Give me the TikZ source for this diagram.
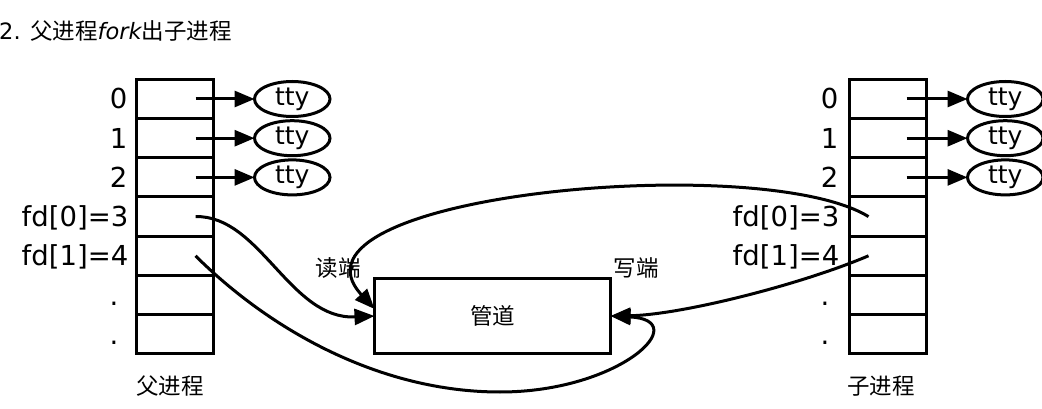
\documentclass[tikz,border=0pt]{standalone}
\usepackage{fontspec}
\setmainfont{DejaVu Sans}
\newfontfamily\cjk{Noto Sans CJK SC}
\usetikzlibrary{arrows.meta,positioning,shapes.geometric}

\begin{document}
\begin{tikzpicture}[
  x=1pt,y=-1pt,
  node distance=0pt and 0pt,
  cell/.style={draw,line width=3pt,outer sep=0pt,inner sep=0pt,
               minimum width=77pt,minimum height=39.2pt},
  ttybox/.style={ellipse,draw,line width=3pt,outer sep=0pt,inner sep=0pt,
               minimum width=75.5pt,minimum height=35pt,font=\fontsize{25}{25}\selectfont},
  lbl/.style={font=\fontsize{27.5}{27.5}\selectfont,inner sep=0pt,text height=20pt,text depth=0pt},
  zh/.style={font=\fontsize{22.5}{22.5}\selectfont\cjk,inner sep=0pt},
  arr/.style={-{Triangle[length=20pt,width=16pt]},line width=3pt}
]
  \useasboundingbox (0,0) rectangle (1042,409);
  \node[anchor=west,inner sep=0pt,font=\fontsize{22.5}{22.5}\selectfont](ttl) at (-1,31)
       {2. {\cjk 父进程}{\itshape fork}{\cjk 出子进程}};

  \node[cell](p0) at (175,99){};
  \node[cell,below=of p0](p1){};
  \node[cell,below=of p1](p2){};
  \node[cell,below=of p2](p3){};
  \node[cell,below=of p3](p4){};
  \node[cell,below=of p4](p5){};
  \node[cell,below=of p5](p6){};
  \node[lbl,left=9pt of p0](l0){0};
  \node[lbl,left=9pt of p1](l1){1};
  \node[lbl,left=9pt of p2](l2){2};
  \node[lbl,left=8pt of p3](l3){fd[0]=3};
  \node[lbl,left=8pt of p4](l4){fd[1]=4};
  \node[lbl,left=18pt of p5](l5){.};
  \node[lbl,left=18pt of p6](l6){.};
  \node[zh](fa) at (170,386){父进程};
  \node[ttybox,right=41pt of p0](t0){tty};
  \node[ttybox,right=41pt of p1](t1){tty};
  \node[ttybox,right=41pt of p2](t2){tty};
  \draw[arr]([xshift=-18pt]p0.east)--(t0);
  \draw[arr]([xshift=-18pt]p1.east)--(t1);
  \draw[arr]([xshift=-18pt]p2.east)--(t2);

  \node[cell](c0) at (888,99){};
  \node[cell,below=of c0](c1){};
  \node[cell,below=of c1](c2){};
  \node[cell,below=of c2](c3){};
  \node[cell,below=of c3](c4){};
  \node[cell,below=of c4](c5){};
  \node[cell,below=of c5](c6){};
  \node[lbl,left=11pt of c0](r0){0};
  \node[lbl,left=11pt of c1](r1){1};
  \node[lbl,left=11pt of c2](r2){2};
  \node[lbl,left=10pt of c3](r3){fd[0]=3};
  \node[lbl,left=10pt of c4](r4){fd[1]=4};
  \node[lbl,left=20pt of c5](r5){.};
  \node[lbl,left=20pt of c6](r6){.};
  \node[zh](zi) at (881,386){子进程};
  \node[ttybox,right=41pt of c0](u0){tty};
  \node[ttybox,right=41pt of c1](u1){tty};
  \node[ttybox,right=41pt of c2](u2){tty};
  \draw[arr]([xshift=-20pt]c0.east)--(u0);
  \draw[arr]([xshift=-20pt]c1.east)--(u1);
  \draw[arr]([xshift=-20pt]c2.east)--(u2);

  \node[draw,line width=3pt,outer sep=0pt,minimum width=236pt,minimum height=75pt,zh]
       (pipe) at (492.5,316){管道};
  \node[zh](rd) at (338,268){读端};
  \node[zh](wr) at (636,268){写端};

  \draw[arr]([xshift=-18pt]p3.east) .. controls (260,215) and (290,320) .. (pipe.west);
  \draw[arr]([xshift=-18pt]p4.east) .. controls (270,330) and (380,392) .. (500,392)
       .. controls (620,392) and (695,320) .. (pipe.east);
  \draw[arr]([xshift=19pt]c3.west) .. controls (760,150) and (270,195) .. ([yshift=7pt]pipe.west);
  \draw[arr]([xshift=19pt]c4.west) .. controls (800,285) and (680,315) .. (pipe.east);
\end{tikzpicture}
\end{document}
